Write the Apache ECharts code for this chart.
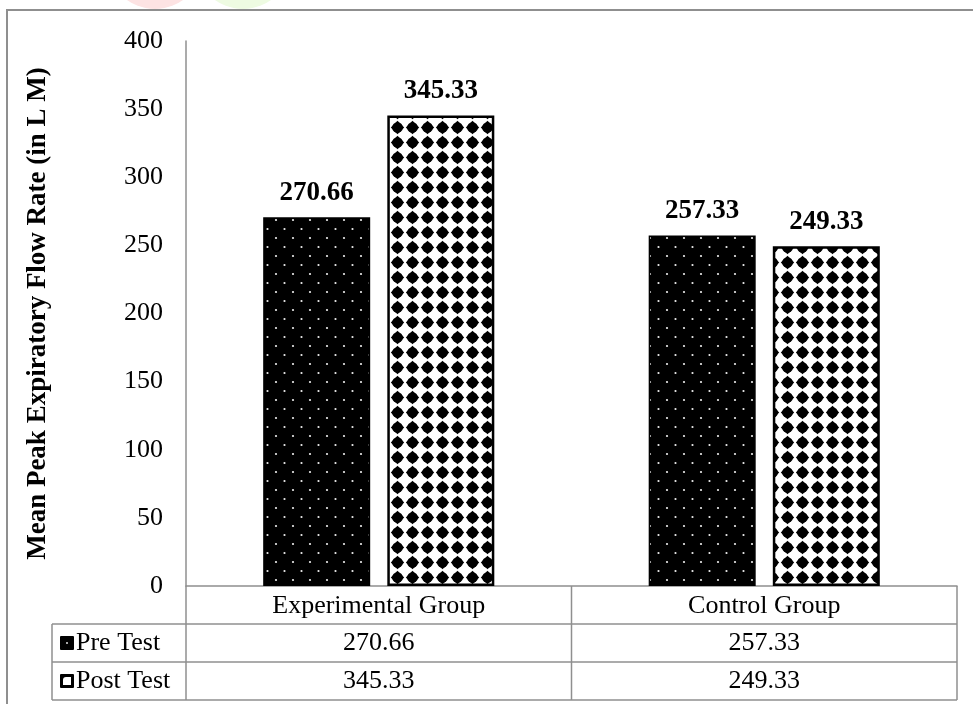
<!DOCTYPE html>
<html>
<head>
<meta charset="utf-8">
<script src="https://cdn.jsdelivr.net/npm/echarts@6/dist/echarts.min.js"></script>
<style>
  html, body { margin: 0; padding: 0; background: #fff; }
  #main { width: 973px; height: 704px; }
</style>
</head>
<body>
<div id="main"></div>
<script>
// data
const categories = ['Experimental Group', 'Control Group'];
const seriesNames = ['Pre Test', 'Post Test'];
const preTest = [270.66, 257.33];
const postTest = [345.33, 249.33];
const yMax = 400;
const yStep = 50;
const yTitle = 'Mean Peak Expiratory Flow Rate (in L M)';

// layout
const FONT = '"Times New Roman", "Liberation Serif", serif';
const gridLeft = 186, gridRight = 957, gridTop = 41, axisY = 586;
const rowH = 38;
const legendLeft = 52;
const lineColor = '#8f8f8f';

// fill patterns
function dotPattern() {
  const c = document.createElement('canvas');
  c.width = 17; c.height = 18;
  const g = c.getContext('2d');
  g.fillStyle = '#000';
  g.fillRect(0, 0, 17, 18);
  g.fillStyle = '#eeeeee';
  g.beginPath(); g.arc(4, 4, 1.1, 0, Math.PI * 2); g.fill();
  g.beginPath(); g.arc(12.5, 13, 1.1, 0, Math.PI * 2); g.fill();
  return c;
}
function diamondPattern() {
  const c = document.createElement('canvas');
  c.width = 15; c.height = 15;
  const g = c.getContext('2d');
  g.fillStyle = '#fff';
  g.fillRect(0, 0, 15, 15);
  g.fillStyle = '#000';
  g.beginPath();
  g.moveTo(7.5, 0.8); g.lineTo(14.2, 7.5); g.lineTo(7.5, 14.2); g.lineTo(0.8, 7.5);
  g.closePath(); g.fill();
  g.beginPath(); g.arc(7.5, 7.5, 5.3, 0, Math.PI * 2); g.fill();
  return c;
}
const prePat = { image: dotPattern(), repeat: 'repeat' };
const postPat = { image: diamondPattern(), repeat: 'repeat' };

const chart = echarts.init(document.getElementById('main'));

// data table under the axis, built from the arrays
const colW = (gridRight - gridLeft) / categories.length;
const graphics = [];
function line(x1, y1, x2, y2) {
  graphics.push({ type: 'line', z: 10, shape: { x1, y1, x2, y2 },
    style: { stroke: lineColor, lineWidth: 1.5 } });
}
function text(t, x, y, align) {
  graphics.push({ type: 'text', z: 10, x, y,
    style: { text: t, font: '26px ' + FONT, fill: '#000', align: align || 'center', verticalAlign: 'middle' } });
}
const tableBottom = axisY + rowH * 3;
line(gridLeft, axisY, gridLeft, tableBottom);
line(gridRight, axisY, gridRight, tableBottom);
for (let i = 1; i < categories.length; i++) line(gridLeft + colW * i, axisY, gridLeft + colW * i, tableBottom);
line(legendLeft, axisY + rowH, legendLeft, tableBottom);
for (let r = 1; r <= 3; r++) line(legendLeft, axisY + rowH * r, gridRight, axisY + rowH * r);

const rows = [preTest, postTest];
rows.forEach((vals, r) => {
  const cy = axisY + rowH * (r + 1) + rowH / 2;
  vals.forEach((v, i) => text(v.toFixed(2), gridLeft + colW * (i + 0.5), cy));
  text(seriesNames[r], 76, cy, 'left');
});
// legend keys
graphics.push({ type: 'rect', z: 10, shape: { x: 60, y: axisY + rowH + 12, width: 14, height: 14, r: 1 },
  style: { fill: '#000' } });
graphics.push({ type: 'circle', z: 11, shape: { cx: 67, cy: axisY + rowH + 19, r: 1 },
  style: { fill: '#ddd' } });
graphics.push({ type: 'rect', z: 10, shape: { x: 60, y: axisY + rowH * 2 + 12, width: 14, height: 14, r: 1 },
  style: { fill: '#000' } });
graphics.push({ type: 'rect', z: 11, shape: { x: 63, y: axisY + rowH * 2 + 15, width: 8, height: 8, r: [3, 0, 0, 0] },
  style: { fill: '#fff' } });

// outer frame and the faint marks at the top edge
graphics.push({ type: 'circle', z: 0, shape: { cx: 155, cy: -39, r: 48 }, style: { fill: '#fde3e3' } });
graphics.push({ type: 'circle', z: 0, shape: { cx: 243, cy: -39, r: 48 }, style: { fill: '#eefbe2' } });
graphics.push({ type: 'rect', z: 1, shape: { x: 7, y: 10, width: 1000, height: 720 },
  style: { fill: 'none', stroke: lineColor, lineWidth: 2 } });

const labelStyle = {
  show: true, position: 'top', distance: 11,
  fontFamily: FONT, fontSize: 27, fontWeight: 'bold', color: '#000',
  formatter: p => p.value.toFixed(2)
};

chart.setOption({
  animation: false,
  backgroundColor: '#fff',
  grid: { left: gridLeft, right: 973 - gridRight, top: gridTop, bottom: 704 - axisY },
  xAxis: {
    type: 'category',
    data: categories,
    axisLine: { show: true, lineStyle: { color: lineColor, width: 1.5 } },
    axisTick: { show: false },
    axisLabel: { fontFamily: FONT, fontSize: 26, color: '#000', margin: 7 }
  },
  yAxis: {
    type: 'value',
    min: 0, max: yMax, interval: yStep,
    name: yTitle,
    nameLocation: 'middle',
    nameGap: 134,
    nameRotate: 90,
    nameTextStyle: { fontFamily: FONT, fontSize: 27, fontWeight: 'bold', color: '#000' },
    axisLine: { show: true, lineStyle: { color: lineColor, width: 1.5 } },
    axisTick: { show: false },
    splitLine: { show: false },
    axisLabel: { fontFamily: FONT, fontSize: 26, color: '#000', margin: 23 }
  },
  series: [
    {
      name: seriesNames[0], type: 'bar', data: preTest,
      barWidth: 107, barGap: '16%',
      itemStyle: { color: prePat, borderColor: '#000', borderWidth: 1.5 },
      label: labelStyle
    },
    {
      name: seriesNames[1], type: 'bar', data: postTest,
      barWidth: 107,
      itemStyle: { color: postPat, borderColor: '#000', borderWidth: 2.5 },
      label: labelStyle
    }
  ],
  graphic: graphics
});
</script>
</body>
</html>
